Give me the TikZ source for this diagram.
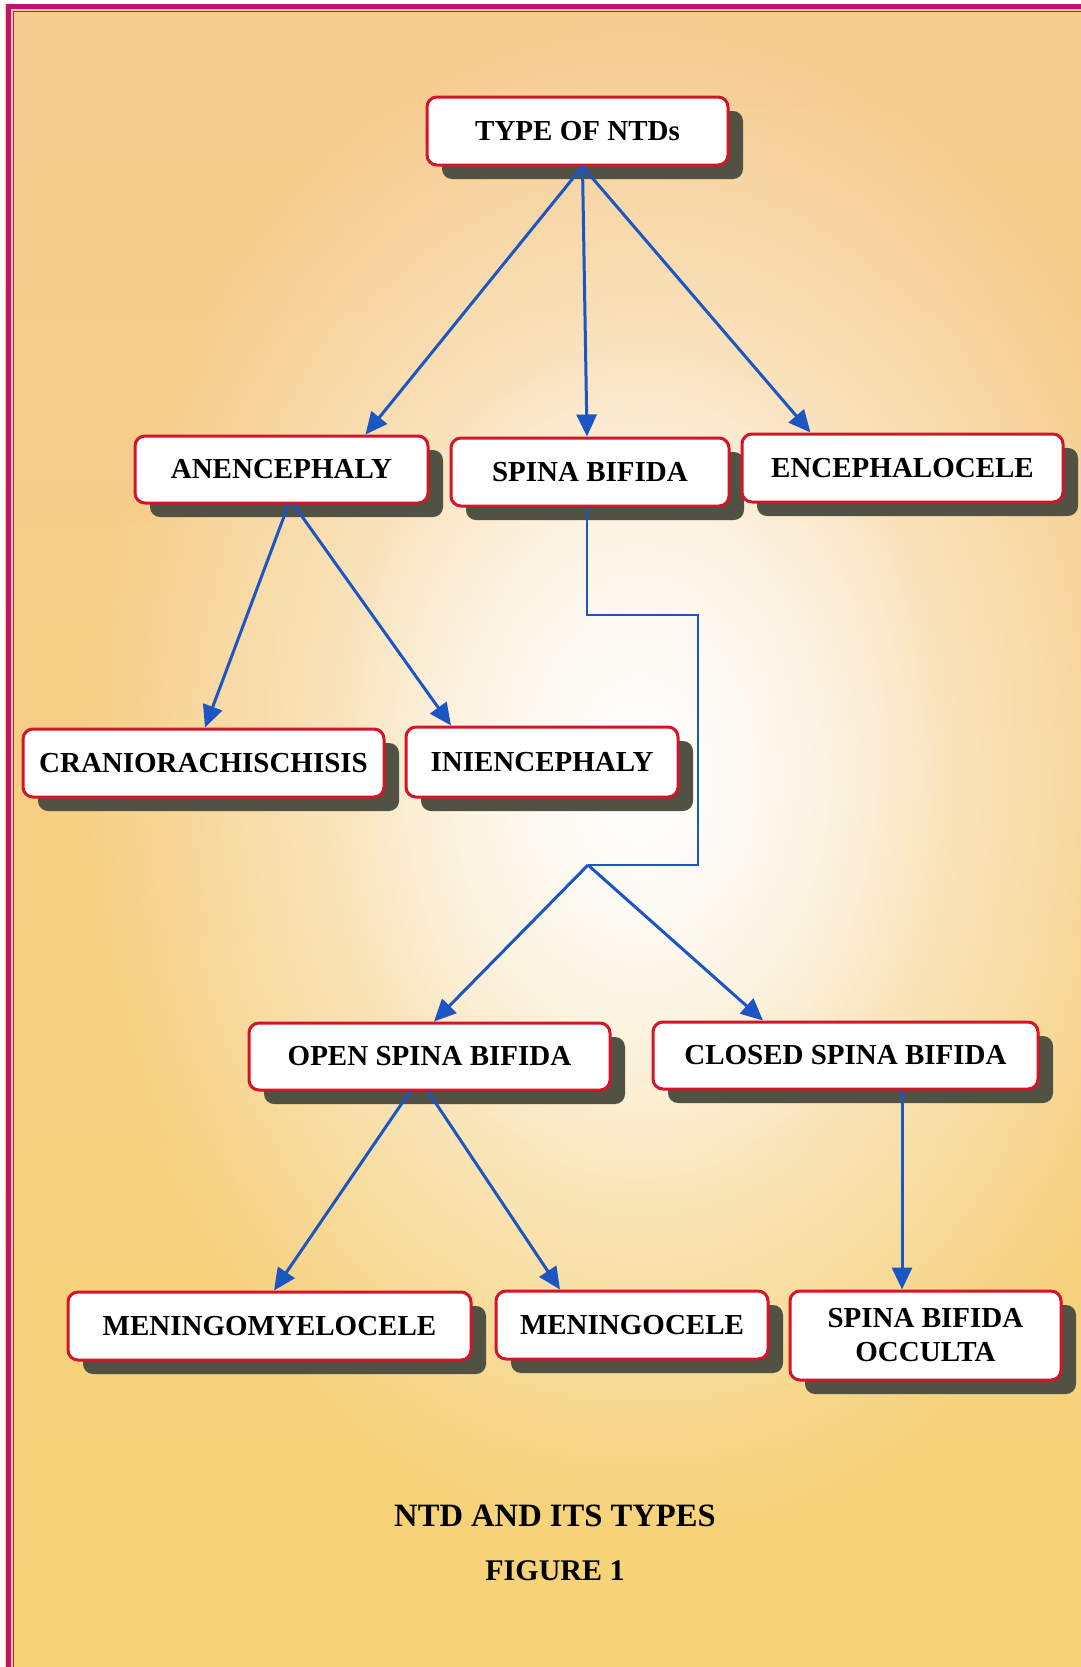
\documentclass[tikz,border=0pt]{standalone}
\usepackage{fontspec}
\setmainfont{Liberation Serif}
\usetikzlibrary{calc,shadows,fadings,arrows.meta}
\definecolor{paperpeach}{RGB}{246,203,144}
\definecolor{paperyellow}{RGB}{246,211,118}
\definecolor{framemag}{RGB}{192,18,112}
\definecolor{boxred}{RGB}{212,20,40}
\definecolor{arrowblue}{RGB}{28,86,196}
\definecolor{shadowgray}{RGB}{82,82,68}
\tikzfading[name=glowfade, inner color=transparent!0, outer color=transparent!100]
\tikzset{
	ntdbox/.style={draw=boxred, line width=1.5pt, fill=white, rounded corners=5pt,
		align=center, inner sep=0pt, font=\bfseries\fontsize{14.5}{17}\selectfont,
		drop shadow={shadow xshift=7.5pt, shadow yshift=-7pt, fill=shadowgray, opacity=1}},
	ntdarrow/.style={draw=arrowblue, line width=1.5pt, -{Triangle[length=11pt,width=10pt]}},
	ntdline/.style={draw=arrowblue, line width=1pt},
	ntdtitle/.style={font=\bfseries\fontsize{#1}{18}\selectfont}
}
\newcommand{\drawpaper}[2]{
	\fill[white] (0,0) rectangle (#1,#2);
	\shade[top color=paperpeach, bottom color=paperyellow] (5,4) rectangle (#1,#2);
	\fill[white, path fading=glowfade] (640,780) ellipse [x radius=560, y radius=760];
	\fill[white, opacity=0.7, path fading=glowfade] (640,760) ellipse [x radius=300, y radius=440];
	\draw[framemag, line width=2.5pt] (8.5,#2) -- (8.5,6.5) -- (#1,6.5);
	\draw[framemag, line width=0.6pt] (13.5,#2) -- (13.5,11.5) -- (#1,11.5);
}
\begin{document}
\begin{tikzpicture}[x=0.5pt,y=-0.5pt]
	\useasboundingbox (0,0) rectangle (1081,1667);
	\drawpaper{1081}{1667}
	\node[ntdbox, minimum width=150.5pt, minimum height=34pt] (ntds) at (577.5,131) {TYPE OF NTDs};
	\node[ntdbox, minimum width=146.5pt, minimum height=33.5pt] (anen) at (281.5,469.5) {ANENCEPHALY};
	\node[ntdbox, minimum width=139pt, minimum height=34pt] (spina) at (590,472) {SPINA BIFIDA};
	\node[ntdbox, minimum width=160.5pt, minimum height=34pt] (encep) at (902.5,468) {ENCEPHALOCELE};
	\node[ntdbox, minimum width=180.5pt, minimum height=34pt] (cranio) at (203.5,763) {CRANIORACHISCHISIS};
	\node[ntdbox, minimum width=136pt, minimum height=35pt] (inien) at (542,762) {INIENCEPHALY};
	\node[ntdbox, minimum width=180.5pt, minimum height=33.5pt] (open) at (429.5,1056.5) {OPEN SPINA BIFIDA};
	\node[ntdbox, minimum width=192.5pt, minimum height=33.5pt] (closed) at (845.5,1055.5) {CLOSED SPINA BIFIDA};
	\node[ntdbox, minimum width=201.5pt, minimum height=34pt] (mmc) at (269.5,1326) {MENINGOMYELOCELE};
	\node[ntdbox, minimum width=136pt, minimum height=34pt] (mc) at (632,1325) {MENINGOCELE};
	\node[ntdbox, minimum width=135.5pt, minimum height=44.5pt] (occulta) at (925.5,1335.5) {SPINA BIFIDA\\OCCULTA};
	\coordinate (jog) at (698,615);
	\coordinate (split) at (588,865);
	\draw[ntdarrow] ($(ntds.south)+(5,0)$) -- ($(anen.north)+(84,0)$);
	\draw[ntdarrow] ($(ntds.south)+(5,0)$) -- ($(spina.north)+(-3,0)$);
	\draw[ntdarrow] ($(ntds.south)+(5,0)$) -- ($(encep.north)+(-92,0)$);
	\draw[ntdarrow] ($(anen.south)+(7,0)$) -- ($(cranio.north)+(1.5,0)$);
	\draw[ntdarrow] ($(anen.south)+(12,0)$) -- ($(inien.north)+(-91,0)$);
	\draw[ntdline] ($(spina.south)+(-3,0)$) |- (jog) |- (split);
	\draw[ntdarrow] (split) -- ($(open.north)+(4.5,0)$);
	\draw[ntdarrow] (split) -- ($(closed.north)+(-82.5,0)$);
	\draw[ntdarrow] ($(open.south)+(-19.5,0)$) -- ($(mmc.north)+(4.5,0)$);
	\draw[ntdarrow] ($(open.south)+(-1.5,0)$) -- ($(mc.north)+(-72,0)$);
	\draw[ntdarrow] ($(closed.south)+(56.5,0)$) -- ($(occulta.north)+(-23.5,0)$);
	\node[ntdtitle=16.3] (caption) at (555,1516) {NTD AND ITS TYPES};
	\node[ntdtitle=15] (fignum) at (555,1571) {FIGURE 1};
\end{tikzpicture}
\end{document}
